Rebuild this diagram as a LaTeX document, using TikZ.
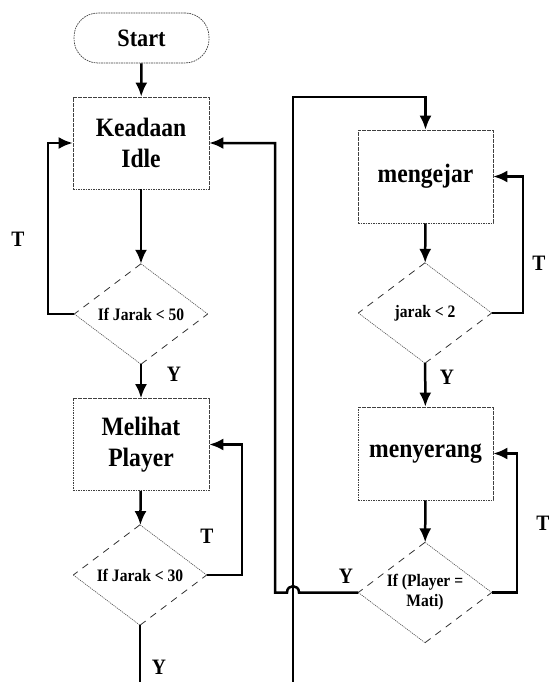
\documentclass[tikz,border=0pt]{standalone}
\usepackage{fontspec}
\setmainfont{Liberation Serif}[FakeStretch=0.89]
\usetikzlibrary{shapes.geometric,arrows.meta}

\tikzset{
  procbox/.style={rectangle, draw=black!75, line width=0.7pt,
    dash pattern=on 1.6pt off 0.9pt, minimum width=136pt, minimum height=92pt,
    inner sep=0pt, align=center, font=\fontsize{26.5}{30.5}\selectfont\bfseries},
  termbox/.style={rectangle, rounded corners=24pt, draw=black!75, line width=0.7pt,
    dash pattern=on 1.6pt off 0.9pt, minimum width=135pt, minimum height=50pt,
    inner sep=0pt, font=\fontsize{25}{28}\selectfont\bfseries},
  decision/.style={diamond, aspect=1.33, minimum width=133pt, minimum height=100pt,
    inner sep=0pt, align=center, font=\fontsize{17.5}{20}\selectfont\bfseries},
  longdash/.style={draw=black!80, line width=0.8pt, dash pattern=on 7pt off 6pt},
  finedot/.style={draw=black!70, line width=0.6pt, dash pattern=on 1.2pt off 0.9pt},
  flow/.style={line width=2.5pt, -{Latex[length=14pt,width=12pt]}},
  plainflow/.style={line width=2.5pt},
  yt/.style={font=\fontsize{22}{24}\selectfont\bfseries, inner sep=0pt},
}

% outline of a decision: two dashed and two dotted edges
\newcommand{\decisionedge}[1]{%
  \draw[longdash] (#1.north) -- (#1.west);
  \draw[finedot] (#1.west) -- (#1.south);
  \draw[longdash] (#1.south) -- (#1.east);
  \draw[finedot] (#1.east) -- (#1.north);
}

\begin{document}
\begin{tikzpicture}[x=1pt, y=-1pt]
\useasboundingbox (0,0) rectangle (550,682);

% left column
\node[termbox] (start) at (141.5,38) {Start};
\node[procbox] (idle) at (141,143) {Keadaan\\Idle};
\node[decision] (d1) at (141,314) {If Jarak < 50};
\node[procbox] (melihat) at (141,444.5) {Melihat\\Player};
\node[decision] (d2) at (140,575) {If Jarak < 30};

% right column
\node[procbox, minimum width=135pt, minimum height=93pt] (kejar) at (425.5,176.5) {mengejar};
\node[decision] (d3) at (425,313) {jarak < 2};
\node[procbox, minimum width=135pt, minimum height=93pt] (serang) at (425.5,453.5) {menyerang};
\node[decision] (d4) at (425,592.5) {If (Player =\\Mati)};

\decisionedge{d1}
\decisionedge{d2}
\decisionedge{d3}
\decisionedge{d4}

% free ends at the bottom edge
\coordinate (endA) at (140,682);
\coordinate (endB) at (293,682);

% left column flow
\draw[flow] (start) -- (idle);
\draw[flow] (idle) -- (d1);
\draw[flow] (d1.west) -- (48,314) |- (idle.west);
\draw[flow] (d1) -- (melihat);
\draw[flow] (melihat) -- (d2);
\draw[flow] (d2.east) -- (242,575) |- (melihat.east);
\draw[plainflow] (d2.south) -- (endA);

% long line up into the right column
\draw[flow] (endB) -- (293,97) -| (kejar.north);

% right column flow
\draw[flow] (kejar) -- (d3);
\draw[flow] (d3.east) -- (523,313) |- (kejar.east);
\draw[flow] (d3) -- (serang);
\draw[flow] (serang) -- (d4);
\draw[flow] (d4.east) -- (517,592.5) |- (serang.east);

% back to the idle state, hopping over the long line
\draw[flow] (d4.west) -- (299,592.5) .. controls (299,584) and (287,584) .. (287,592.5)
  -- (275,592.5) |- (idle.east);

% branch labels
\node[yt] (t1) at (18,239) {T};
\node[yt] (y1) at (174,374) {Y};
\node[yt] (t2) at (207,536) {T};
\node[yt] (y2) at (159,667) {Y};
\node[yt] (t3) at (539,263) {T};
\node[yt] (y3) at (447,377) {Y};
\node[yt] (t4) at (543,523) {T};
\node[yt] (y4) at (346,576) {Y};
\end{tikzpicture}
\end{document}
